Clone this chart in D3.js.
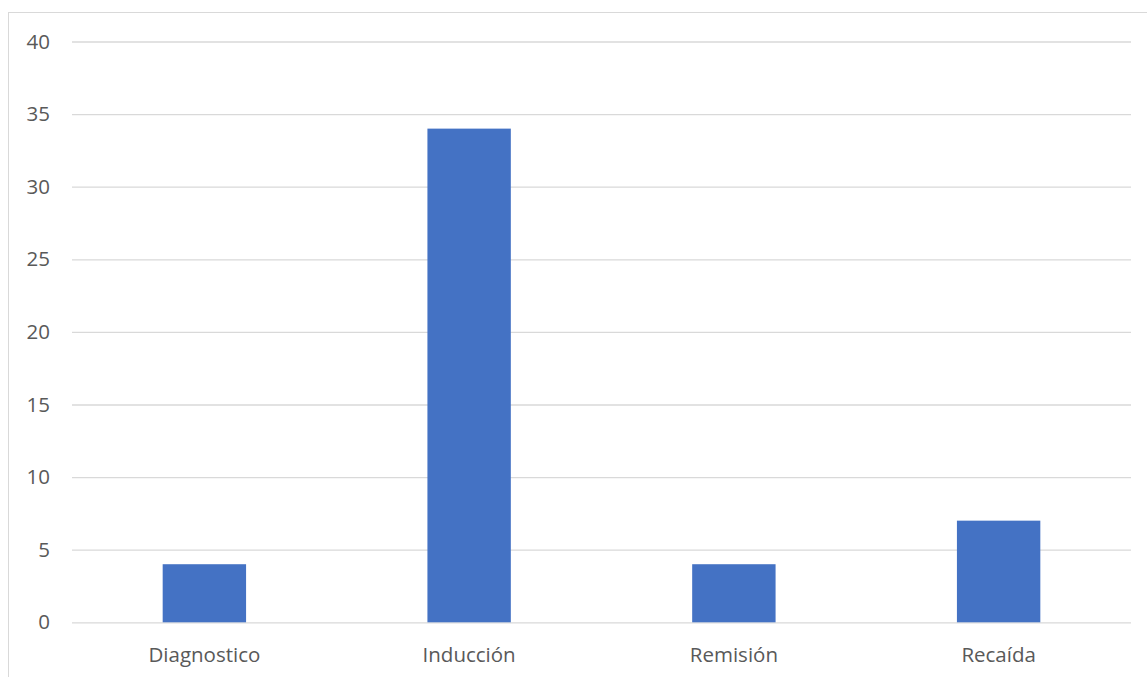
<!DOCTYPE html>
<html><head><meta charset="utf-8">
<script src="https://cdn.jsdelivr.net/npm/d3@7"></script>
<style>html,body{margin:0;padding:0;background:#fff;}svg{display:block;}</style>
</head><body>
<svg id="c" width="1147" height="677"></svg>
<script>
const categories = ["Diagnostico", "Inducción", "Remisión", "Recaída"];
const values = [4, 34, 4, 7];
const yTicks = [0, 5, 10, 15, 20, 25, 30, 35, 40];

const svg = d3.select("#c");
const W = 1147, H = 677;
const m = {left: 72, right: 16, top: 41.5, bottom: 54.7};
const x = d3.scaleBand().domain(categories).range([m.left, W - m.right]).paddingInner(0.685).paddingOuter(0.3425);
const y = d3.scaleLinear().domain([0, 40]).range([H - m.bottom, m.top]);
const FONT = "'Open Sans', sans-serif";
const FS = "20.5px";

// outer frame
svg.append("rect").attr("x", 8.5).attr("y", 12.5).attr("width", 1200).attr("height", 800)
  .attr("fill", "none").attr("stroke", "#d9d9d9").attr("stroke-width", 1);

// gridlines
const yAxis = d3.axisLeft(y).tickValues(yTicks).tickSize(-(W - m.right - m.left)).tickPadding(22);
const gy = svg.append("g").attr("transform", `translate(${m.left},0)`).call(yAxis);
gy.select(".domain").remove();
gy.selectAll(".tick line").attr("stroke", "#d9d9d9").attr("stroke-width", 1.3);
gy.selectAll(".tick text").attr("fill", "#595959").style("font-family", FONT).style("font-size", FS);

// bars
svg.append("g").selectAll("rect").data(values).join("rect")
  .attr("x", (d, i) => x(categories[i]))
  .attr("width", x.bandwidth())
  .attr("y", d => y(d))
  .attr("height", d => y(0) - y(d))
  .attr("fill", "#4472c4");

// x axis labels
const xAxis = d3.axisBottom(x).tickSize(0).tickPadding(24.8);
const gx = svg.append("g").attr("transform", `translate(0,${y(0)})`).call(xAxis);
gx.select(".domain").remove();
gx.selectAll(".tick text").attr("fill", "#595959").style("font-family", FONT).style("font-size", FS);
</script>
</body></html>
